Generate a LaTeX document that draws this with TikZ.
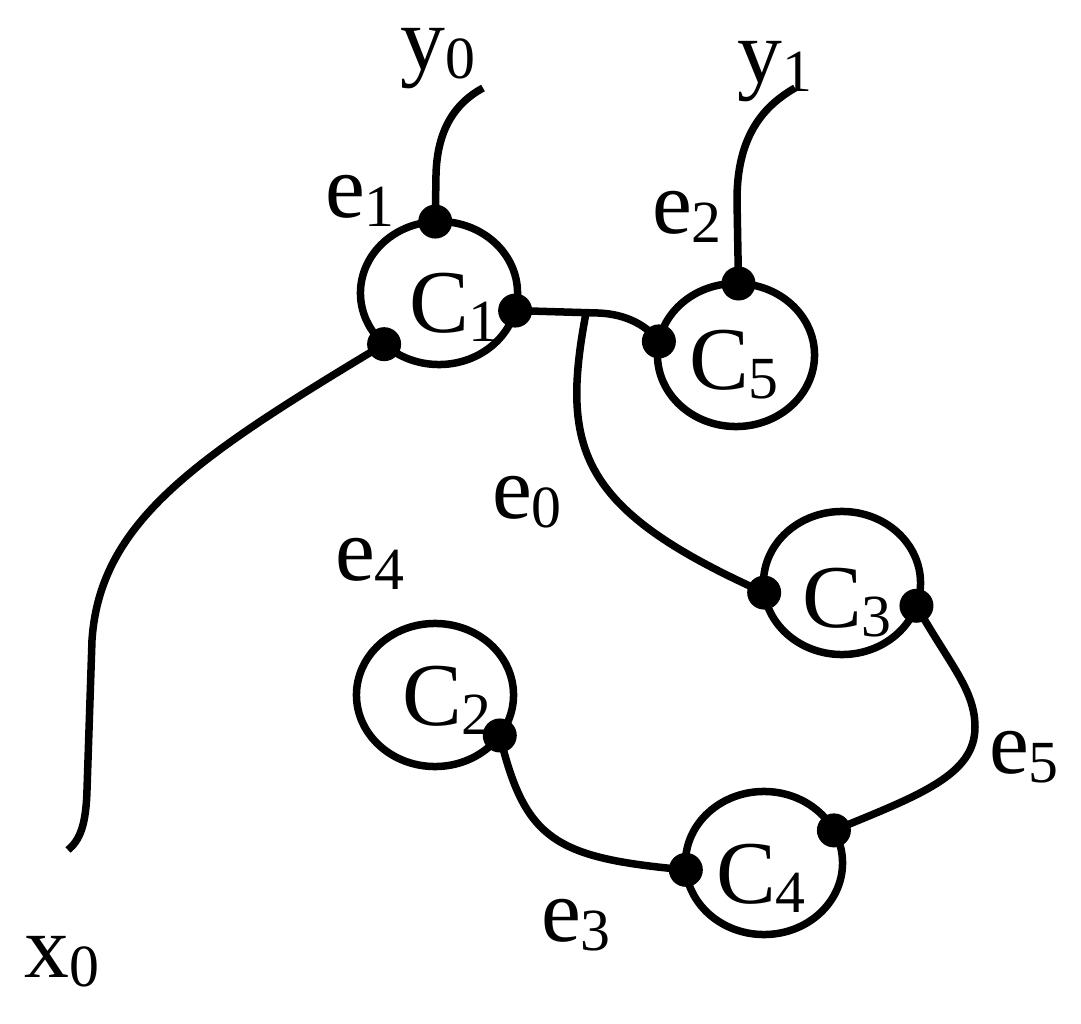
\documentclass[tikz,border=0pt]{standalone}
\usepackage{fontspec}
\setmainfont{Liberation Serif}
\usetikzlibrary{shapes.geometric}
\newcommand\sbs[1]{\raisebox{-0.09cm}{\fontsize{17}{17}\selectfont #1}}
\begin{document}
\begin{tikzpicture}[x=0.01cm,y=-0.01cm, line width=0.075cm,
  comp/.style={draw, ellipse, minimum width=1.57cm, minimum height=1.43cm, inner sep=0pt, outer sep=0pt},
  lab/.style={font=\fontsize{25.5}{30}\selectfont, inner sep=0pt, outer sep=0pt},
  wire/.style={draw, line width=0.075cm}]
\useasboundingbox (0,0) rectangle (1081,1024);
\node[comp] (C1) at (439,293) {};
\node[comp] (C5) at (736,355) {};
\node[comp] (C3) at (842,583) {};
\node[comp] (C2) at (435,695) {};
\node[comp] (C4) at (764,863) {};
\node[lab] (C1t) at (454,307) {C\sbs{1}};
\node[lab] (C5t) at (734,365) {C\sbs{5}};
\node[lab] (C3t) at (847,603) {C\sbs{3}};
\node[lab] (C2t) at (447,700) {C\sbs{2}};
\node[lab] (C4t) at (761,878) {C\sbs{4}};
\node[lab] (y0) at (438,59) {y\sbs{0}};
\node[lab] (y1) at (775,72) {y\sbs{1}};
\node[lab] (e1) at (360,201) {e\sbs{1}};
\node[lab] (e2) at (687,217) {e\sbs{2}};
\node[lab] (e0) at (527,502) {e\sbs{0}};
\node[lab] (e4) at (370,564) {e\sbs{4}};
\node[lab] (e5) at (1024,757) {e\sbs{5}};
\node[lab] (e3) at (576,925) {e\sbs{3}};
\node[lab] (x0) at (62,962) {x\sbs{0}};
\coordinate (y0e) at (483,88);
\coordinate (y1e) at (795,88);
\coordinate (x0e) at (68,850);
\coordinate (j) at (586,313);
\draw[wire] (C1.93) -- (436,175) .. controls (437,130) and (455,103) .. (y0e);
\draw[wire] (C5.88) -- (737,200) .. controls (737,140) and (760,108) .. (y1e);
\draw[wire] (C1.-13) -- (598,313) .. controls (628,314) and (648,327) .. (C5.170);
\draw[wire] (j) .. controls (560,450) and (580,510) .. (C3.187);
\draw[wire] (C1.-137) .. controls (200,455) and (100,520) .. (92,640) -- (87,790) .. controls (86,825) and (80,840) .. (x0e);
\draw[wire] (C3.-17) .. controls (950,665) and (975,690) .. (975,727) .. controls (975,775) and (920,795) .. (C4.25);
\draw[wire] (C2.-32) .. controls (525,840) and (555,858) .. (C4.185);
\foreach \p in {C1.93, C1.-13, C1.-137, C5.88, C5.170, C3.187, C3.-17, C2.-32, C4.25, C4.185}
  \fill (\p) circle[radius=0.17cm];
\end{tikzpicture}
\end{document}
